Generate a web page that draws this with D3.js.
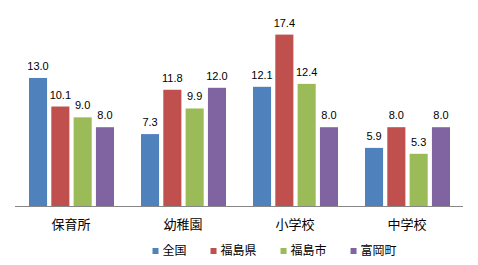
<!DOCTYPE html>
<html><head><meta charset="utf-8">
<script src="https://cdn.jsdelivr.net/npm/d3@7"></script>
<style>
html,body{margin:0;padding:0;background:#fff;}
svg{display:block;}
</style>
</head><body>
<svg id="chart" width="478" height="265"></svg>
<script>
const categories = ["保育所", "幼稚園", "小学校", "中学校"];
const seriesNames = ["全国", "福島県", "福島市", "富岡町"];
const seriesColors = ["#4F81BD", "#C0504D", "#9BBB59", "#8064A2"];
const values全国 = [13.0, 7.3, 12.1, 5.9];
const values福島県 = [10.1, 11.8, 17.4, 8.0];
const values福島市 = [9.0, 9.9, 12.4, 5.3];
const values富岡町 = [8.0, 12.0, 8.0, 8.0];
const seriesValues = [values全国, values福島県, values福島市, values富岡町];

const svg = d3.select("#chart");
const plotLeft = 15, plotRight = 463, baseY = 206, topY = 9;

const x0 = d3.scaleBand().domain(categories).range([plotLeft, plotRight]).paddingInner(0).paddingOuter(0);
const x1 = d3.scaleBand().domain(seriesNames).range([14, 99]).paddingInner(0.19).paddingOuter(0);
const y = d3.scaleLinear().domain([0, 20]).range([baseY, topY]);

const numFont = "'Liberation Sans', Arial, sans-serif";
const cjkFont = "'Noto Sans CJK JP', sans-serif";

const groups = svg.selectAll("g.cat").data(categories).enter().append("g")
  .attr("class", "cat")
  .attr("transform", d => `translate(${x0(d)},0)`);

groups.each(function(cat, ci) {
  const g = d3.select(this);
  seriesNames.forEach((s, si) => {
    const v = seriesValues[si][ci];
    g.append("rect")
      .attr("x", x1(s))
      .attr("y", y(v))
      .attr("width", x1.bandwidth())
      .attr("height", baseY - y(v))
      .attr("fill", seriesColors[si]);
    g.append("text")
      .attr("x", x1(s) + x1.bandwidth() / 2)
      .attr("y", y(v) - 8)
      .attr("text-anchor", "middle")
      .attr("font-family", numFont)
      .attr("font-size", 11)
      .attr("fill", "#000")
      .text(v.toFixed(1));
  });
});

// x axis
const xAxis = d3.axisBottom(x0).tickSize(0).tickPadding(14);
const ax = svg.append("g").attr("transform", `translate(0,${baseY})`).call(xAxis);
ax.select(".domain").attr("stroke", "#868686").attr("stroke-width", 1)
  .attr("d", `M${plotLeft},0.5H${plotRight}`);
ax.selectAll(".tick text").attr("font-family", cjkFont).attr("font-size", 13).attr("fill", "#000");

// legend
const legend = svg.append("g").attr("transform", "translate(0,251)");
let lx = 152.5;
seriesNames.forEach((s, si) => {
  const item = legend.append("g").attr("transform", `translate(${lx},0)`);
  item.append("rect").attr("x", 0).attr("y", -3).attr("width", 6).attr("height", 6).attr("fill", seriesColors[si]);
  const t = item.append("text").attr("x", 10).attr("y", 0).attr("dy", "0.35em")
    .attr("font-family", cjkFont).attr("font-size", 12).attr("fill", "#000").text(s);
  const w = t.node().getComputedTextLength();
  lx += 10 + w + 24;
});
</script>
</body></html>
